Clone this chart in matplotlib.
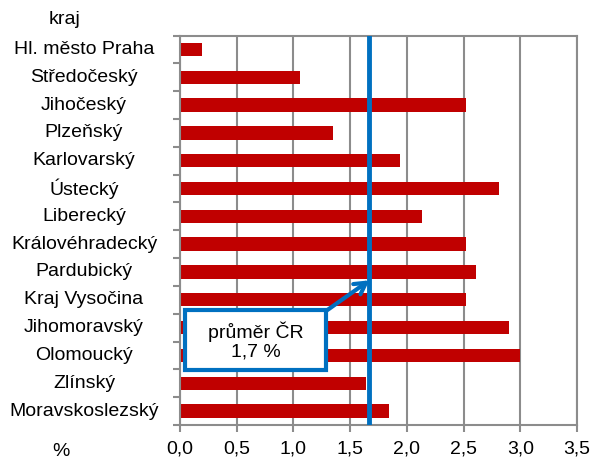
import numpy as np
import matplotlib.pyplot as plt
import matplotlib.transforms as mtransforms

plt.rcParams['font.family'] = ['Liberation Sans', 'DejaVu Sans']

# data
kraje = ['Hl. město Praha', 'Středočeský', 'Jihočeský', 'Plzeňský', 'Karlovarský',
         'Ústecký', 'Liberecký', 'Královéhradecký', 'Pardubický', 'Kraj Vysočina',
         'Jihomoravský', 'Olomoucký', 'Zlínský', 'Moravskoslezský']
hodnoty = [0.19, 1.06, 2.52, 1.35, 1.94, 2.81, 2.13, 2.52, 2.61, 2.52, 2.90, 3.00, 1.64, 1.84]
prumer = 1.67
x_ticks = [0.0, 0.5, 1.0, 1.5, 2.0, 2.5, 3.0, 3.5]
x_labels = ['0,0', '0,5', '1,0', '1,5', '2,0', '2,5', '3,0', '3,5']

W, H = 593, 459
grey = '#8c8c8c'
blue = '#0070c0'

fig = plt.figure(figsize=(W / 100, H / 100), dpi=100)
ax = fig.add_axes([180 / W, 1 - 425 / H, (577 - 180) / W, (425 - 35.5) / H])

y = np.arange(len(kraje))
ax.barh(y, hodnoty, height=0.48, color='#c00000', zorder=2)
ax.set_xlim(0, 3.5)
ax.set_ylim(len(kraje) - 0.5, -0.5)

# grid + frame
ax.set_xticks(x_ticks)
ax.set_xticklabels(x_labels, fontsize=14)
ax.grid(axis='x', color=grey, linewidth=1.5, zorder=1)
for s in ax.spines.values():
    s.set_color(grey)
    s.set_linewidth(1.5)
ax.tick_params(axis='x', colors=grey, length=5, width=1.5, labelcolor='black', pad=6)

# y ticks between categories
ax.set_yticks(np.arange(-0.5, len(kraje), 1))
ax.set_yticklabels([])
ax.tick_params(axis='y', colors=grey, length=5, width=1.5)

# category labels centred at x = 84 px
lab_tr = mtransforms.blended_transform_factory(fig.transFigure, ax.transData)
for i, k in enumerate(kraje):
    ax.text(84 / W, i, k, transform=lab_tr, ha='center', va='center', fontsize=14)
fig.text(65 / W, 1 - 20 / H, 'kraj', ha='center', va='center', fontsize=14)
fig.text(61 / W, 1 - 452 / H, '%', ha='center', va='center', fontsize=14)

# average line
ax.axvline(prumer, color=blue, linewidth=3.5, zorder=3)

# annotation box with arrow
ax.annotate('', xy=(prumer, 8.3), xytext=(326 / W, 1 - 311 / H),
            textcoords='figure fraction',
            arrowprops=dict(arrowstyle='->,head_length=0.8,head_width=0.45',
                            color=blue, lw=3, shrinkA=0, shrinkB=0),
            zorder=4, annotation_clip=False)
box = plt.Rectangle((185 / W, 1 - 370 / H), (326 - 185) / W, (370 - 310) / H,
                    transform=fig.transFigure, facecolor='white', edgecolor=blue,
                    linewidth=3, zorder=5)
fig.patches.append(box)
fig.text(255.5 / W, 1 - 341 / H, 'průměr ČR\n1,7 %', ha='center', va='center',
         fontsize=14, linespacing=1.15, zorder=6)

fig.savefig('out.png', dpi=100)
